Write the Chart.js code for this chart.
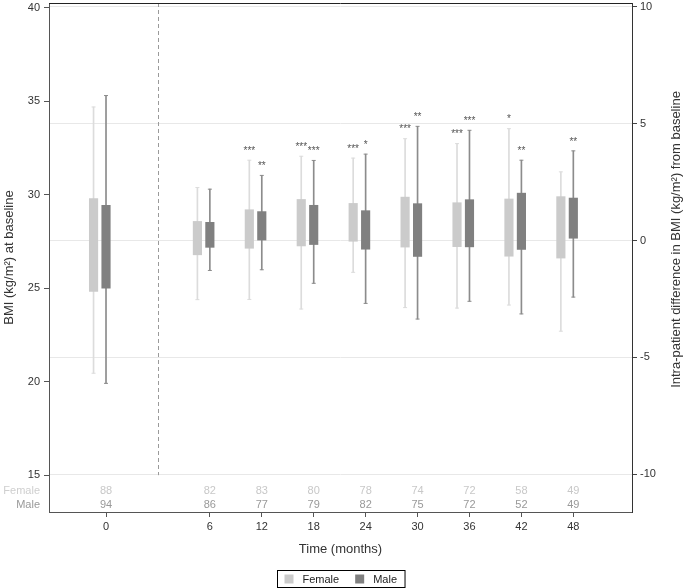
<!DOCTYPE html>
<html>
<head>
<meta charset="utf-8">
<script src="https://cdn.jsdelivr.net/npm/chart.js@4.4.0/dist/chart.umd.min.js"></script>
<style>
  html, body { margin: 0; padding: 0; background: #fff; }
</style>
</head>
<body>
<canvas id="bmiChart" width="685" height="588"></canvas>
<script>
const months = [0, 6, 12, 18, 24, 30, 36, 42, 48];
const leftTicks = [15, 20, 25, 30, 35, 40];
const rightTicks = [-10, -5, 0, 5, 10];

// month 0 is absolute BMI (left axis), later months are change from baseline (right axis)
const femaleMin = [20.45, -2.53, -2.52, -2.93, -1.36, -2.87, -2.89, -2.76, -3.88];
const femaleQ1  = [24.82, -0.61, -0.33, -0.23, -0.03, -0.28, -0.26, -0.67, -0.75];
const femaleQ3  = [29.79,  0.82,  1.32,  1.76,  1.59,  1.86,  1.62,  1.78,  1.88];
const femaleMax = [34.69,  2.27,  3.44,  3.61,  3.53,  4.36,  4.15,  4.79,  2.94];

const maleMin = [19.91, -1.28, -1.25, -1.83, -2.69, -3.36, -2.60, -3.14, -2.42];
const maleQ1  = [25.00, -0.29,  0.00, -0.17, -0.37, -0.68, -0.27, -0.38,  0.10];
const maleQ3  = [29.43,  0.78,  1.24,  1.51,  1.28,  1.58,  1.75,  2.03,  1.82];
const maleMax = [35.30,  2.20,  2.79,  3.43,  3.70,  4.89,  4.72,  3.44,  3.84];

const femaleN = [88, 82, 83, 80, 78, 74, 72, 58, 49];
const maleN   = [94, 86, 77, 79, 82, 75, 72, 52, 49];

const femaleStars = ['', '', '***', '***', '***', '***', '***', '*', ''];
const maleStars   = ['', '', '**', '***', '*', '**', '***', '**', '**'];

const FONT = "'Liberation Sans', Arial, sans-serif";
const FEMALE_BOX = '#cbcbcb', FEMALE_WHISKER = '#dcdcdc';
const MALE_BOX = '#808080', MALE_WHISKER = '#8c8c8c';
const FEMALE_SHIFT = -0.24;

// baseline sits alone; follow-up visits start one slot later (room for the dashed divider)
const slot = i => (i === 0 ? 0 : i + 1);
const axisFor = i => (i === 0 ? 'y' : 'y1');

function series(label, mins, q1, q3, maxs, shift, boxColor, whiskerColor) {
  const groups = { y: [], y1: [] };
  months.forEach((m, i) => groups[axisFor(i)].push(i));
  const sets = [];
  Object.entries(groups).forEach(([axis, idx]) => {
    const x = i => slot(i) + shift;
    sets.push({
      type: 'bar', label, yAxisID: axis, order: 0, grouped: false,
      data: idx.map(i => ({ x: x(i), y: [q1[i], q3[i]] })),
      backgroundColor: boxColor, barThickness: 8.5, borderWidth: 0
    });
    sets.push({
      type: 'bar', label: label + ' whisker', yAxisID: axis, order: 2, grouped: false,
      data: idx.map(i => ({ x: x(i), y: [mins[i], maxs[i]] })),
      backgroundColor: whiskerColor, barThickness: 1, borderWidth: 0
    });
    sets.push({
      type: 'line', label: label + ' caps', yAxisID: axis, order: 1, showLine: false,
      data: idx.flatMap(i => [{ x: x(i), y: mins[i] }, { x: x(i), y: maxs[i] }]),
      pointStyle: 'line', pointRadius: 2, pointHoverRadius: 2,
      borderColor: whiskerColor, borderWidth: 1
    });
  });
  return sets;
}

const datasets = [
  ...series('Female', femaleMin, femaleQ1, femaleQ3, femaleMax, FEMALE_SHIFT, FEMALE_BOX, FEMALE_WHISKER),
  ...series('Male', maleMin, maleQ1, maleQ3, maleMax, 0, MALE_BOX, MALE_WHISKER)
];

const legendItems = [
  { text: 'Female', color: FEMALE_BOX },
  { text: 'Male', color: MALE_BOX }
];

// stars, n-counts, divider, frame, right title and the boxed legend
const extras = {
  id: 'extras',
  afterDatasetsDraw(chart) {
    const { ctx, chartArea: a, scales } = chart;
    const xs = scales.x;
    ctx.save();

    const dx = Math.round(xs.getPixelForValue(1)) + 0.5;
    ctx.strokeStyle = '#9a9a9a';
    ctx.lineWidth = 1;
    ctx.setLineDash([4, 3]);
    ctx.beginPath();
    ctx.moveTo(dx, a.top);
    ctx.lineTo(dx, scales.y.getPixelForValue(15));
    ctx.stroke();
    ctx.setLineDash([]);

    ctx.strokeStyle = '#222';
    ctx.beginPath();
    ctx.moveTo(a.left, a.top + 0.5);
    ctx.lineTo(a.right, a.top + 0.5);
    ctx.stroke();

    ctx.font = '10px ' + FONT;
    ctx.textAlign = 'center';
    ctx.textBaseline = 'middle';
    ctx.fillStyle = '#555';
    months.forEach((m, i) => {
      const ys = scales[axisFor(i)];
      [[femaleStars, femaleMax, FEMALE_SHIFT], [maleStars, maleMax, 0]].forEach(([st, mx, sh]) => {
        if (!st[i]) return;
        ctx.fillText(st[i], xs.getPixelForValue(slot(i) + sh), ys.getPixelForValue(mx[i]) - 9);
      });
    });

    ctx.font = '11px ' + FONT;
    const fy = a.bottom - 21, my = a.bottom - 7;
    months.forEach((m, i) => {
      const px = xs.getPixelForValue(slot(i));
      ctx.fillStyle = '#c8c8c8';
      ctx.fillText(femaleN[i], px, fy);
      ctx.fillStyle = '#999';
      ctx.fillText(maleN[i], px, my);
    });
    ctx.textAlign = 'right';
    ctx.fillStyle = '#cfcfcf';
    ctx.fillText('Female', 40, fy);
    ctx.fillStyle = '#999';
    ctx.fillText('Male', 40, my);
    ctx.restore();
  },
  afterDraw(chart) {
    const { ctx, chartArea: a } = chart;
    ctx.save();
    ctx.font = '13px ' + FONT;
    ctx.fillStyle = '#333';
    ctx.textAlign = 'center';
    ctx.textBaseline = 'middle';
    ctx.translate(676, (a.top + a.bottom) / 2 - 18);
    ctx.rotate(-Math.PI / 2);
    ctx.fillText('Intra-patient difference in BMI (kg/m²) from baseline', 0, 0);
    ctx.restore();

    ctx.save();
    ctx.font = '11px ' + FONT;
    const sq = 9, gapText = 9, gapItem = 16, padL = 7, padR = 8;
    const widths = legendItems.map(it => sq + gapText + ctx.measureText(it.text).width);
    const total = padL + widths.reduce((s, w) => s + w, 0) + gapItem * (widths.length - 1) + padR;
    const left = Math.round(chart.width / 2 - 2 - total / 2) + 0.5;
    const top = 570.5, h = 17;
    ctx.strokeStyle = '#000';
    ctx.lineWidth = 1;
    ctx.strokeRect(left, top, total, h);
    let x = left + padL;
    ctx.textBaseline = 'middle';
    ctx.textAlign = 'left';
    legendItems.forEach((it, k) => {
      ctx.fillStyle = it.color;
      ctx.fillRect(x, top + (h - sq) / 2, sq, sq);
      ctx.fillStyle = '#222';
      ctx.fillText(it.text, x + sq + gapText, top + h / 2 + 0.5);
      x += widths[k] + gapItem;
    });
    ctx.restore();
  }
};

new Chart(document.getElementById('bmiChart').getContext('2d'), {
  type: 'bar',
  data: { datasets },
  options: {
    responsive: false,
    animation: false,
    layout: { padding: { top: 1, left: 0, right: 0, bottom: 0 } },
    plugins: { legend: { display: false }, tooltip: { enabled: false } },
    scales: {
      x: {
        type: 'linear',
        offset: false,
        min: -1.098,
        max: 10.13,
        afterBuildTicks: s => { s.ticks = months.map((m, i) => ({ value: slot(i) })); },
        afterFit: s => { s.height = 76; s.paddingLeft = 0; s.paddingRight = 0; },
        ticks: {
          autoSkip: false, maxRotation: 0, padding: 3,
          color: '#333', font: { family: FONT, size: 11 },
          callback: (v, i) => String(months[i])
        },
        grid: { offset: false, drawOnChartArea: false, tickLength: 5, color: '#555' },
        border: { color: '#555' },
        title: {
          display: true, text: 'Time (months)', color: '#333',
          font: { family: FONT, size: 13 }, padding: { top: 4, bottom: 31 }
        }
      },
      y: {
        position: 'left',
        min: 13.03,
        max: 40.25,
        afterBuildTicks: s => { s.ticks = leftTicks.map(v => ({ value: v })); },
        afterFit: s => { s.width = 49; s.paddingTop = 0; s.paddingBottom = 0; },
        ticks: { padding: 4, color: '#333', font: { family: FONT, size: 11 } },
        grid: { drawOnChartArea: false, tickLength: 5, color: '#555' },
        border: { color: '#555' },
        title: {
          display: true, text: 'BMI (kg/m²) at baseline', color: '#333',
          font: { family: FONT, size: 13 }, padding: { top: 2, bottom: 0 }
        }
      },
      y1: {
        position: 'right',
        min: -11.62,
        max: 10.17,
        afterBuildTicks: s => { s.ticks = rightTicks.map(v => ({ value: v })); },
        afterFit: s => { s.width = 53; s.paddingTop = 0; s.paddingBottom = 0; },
        ticks: { padding: 3, color: '#333', font: { family: FONT, size: 11 } },
        grid: { color: '#e8e8e8', tickColor: '#444', tickLength: 5 },
        border: { color: '#333' }
      }
    }
  },
  plugins: [extras]
});
</script>
</body>
</html>
